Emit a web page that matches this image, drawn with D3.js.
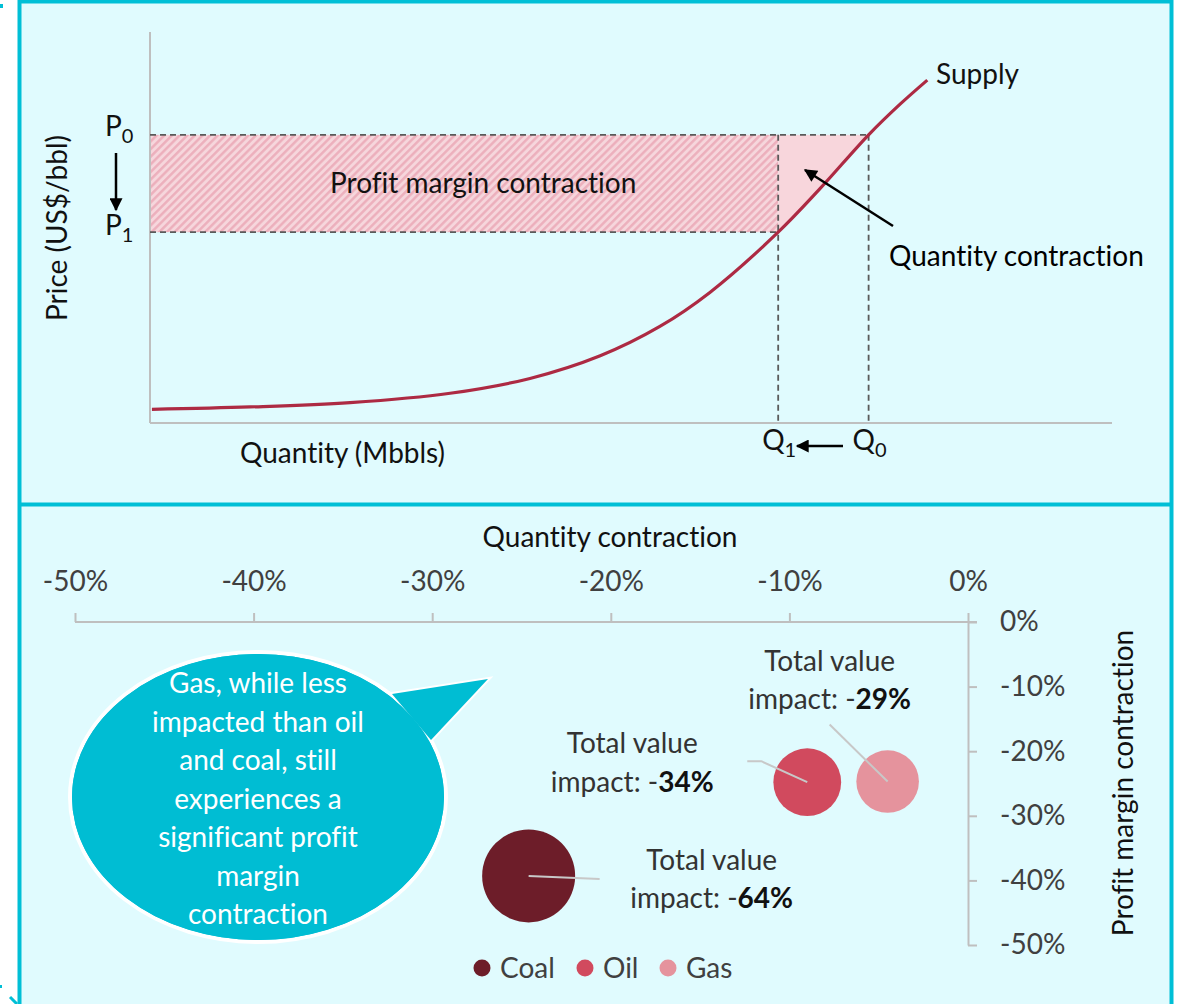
<!DOCTYPE html>
<html>
<head>
<meta charset="utf-8">
<title>Supply curve and value impact</title>
<script src="https://d3js.org/d3.v7.min.js"></script>
<style>
  body { margin: 0; background: #fff; }
  svg text { font-family: Lato, "Open Sans", sans-serif; font-variant-ligatures: none; }
</style>
</head>
<body>
<svg width="1178" height="1004"></svg>
<script>
// top panel: schematic supply curve, arbitrary units 0-100
const supplyQ = [0.2, 10.4, 20.8, 31.2, 39.5, 46.8, 53.0, 58.2, 65.3, 69.6, 74.7, 78.0, 80.8];
const supplyP = [3.5, 4.1, 5.2, 7.6, 11.4, 17.2, 24.7, 33.4, 48.8, 59.8, 73.7, 81.6, 87.7];
const priceLevels = [73.7, 48.8];     // P0, P1
const quantityLevels = [74.7, 65.3];  // Q0, Q1

// bottom panel
const fuels = ["Coal", "Oil", "Gas"];
const qtyContraction = [-0.246, -0.09, -0.045];
const marginContraction = [-0.393, -0.248, -0.247];
const valueImpact = [-0.64, -0.34, -0.29];
const fuelColors = ["#6d1d29", "#d14a5e", "#e5939d"];
const pctTicks = [-0.5, -0.4, -0.3, -0.2, -0.1, 0];
const calloutLines = ["Gas, while less", "impacted than oil", "and coal, still",
                      "experiences a", "significant profit", "margin", "contraction"];

const svg = d3.select("svg");
const FS = 28;
const axisGrey = "#bfbfbf";

// arrow head
const defs = svg.append("defs");
defs.append("marker")
    .attr("id", "arrow")
    .attr("viewBox", "0 0 10 10")
    .attr("refX", 9).attr("refY", 5)
    .attr("markerUnits", "userSpaceOnUse")
    .attr("markerWidth", 15).attr("markerHeight", 13)
    .attr("orient", "auto")
  .append("path").attr("d", "M0,0 L10,5 L0,10 z").attr("fill", "#000");

const hatch = defs.append("pattern")
    .attr("id", "hatch")
    .attr("patternUnits", "userSpaceOnUse")
    .attr("width", 5.4).attr("height", 5.4)
    .attr("patternTransform", "rotate(45)");
hatch.append("rect").attr("width", 5.4).attr("height", 5.4).attr("fill", "#f6d6dc");
hatch.append("line").attr("x1", 1.3).attr("x2", 1.3).attr("y1", 0).attr("y2", 5.4)
    .attr("stroke", "#ecaebb").attr("stroke-width", 2.4);

// frame
svg.append("rect")
    .attr("x", 19.5).attr("y", 1.5).attr("width", 1152).attr("height", 1012)
    .attr("fill", "#e0fbfe").attr("stroke", "#00bfd6").attr("stroke-width", 4);
svg.append("line")
    .attr("x1", 19.5).attr("x2", 1171.5).attr("y1", 504.5).attr("y2", 504.5)
    .attr("stroke", "#00bfd6").attr("stroke-width", 4);
// selection handles peeking out on the left
svg.append("rect").attr("x", 0).attr("y", 4).attr("width", 3).attr("height", 4).attr("fill", "#00bfd6");
svg.append("rect").attr("x", 0).attr("y", 985).attr("width", 2).attr("height", 3).attr("fill", "#00bfd6");
svg.append("line").attr("x1", 10).attr("y1", 997).attr("x2", 17).attr("y2", 1004)
    .attr("stroke", "#00bfd6").attr("stroke-width", 3);

// ---------- top panel ----------
const x = d3.scaleLinear().domain([0, 100]).range([150, 1112]);
const y = d3.scaleLinear().domain([0, 100]).range([423, 32]);
const supply = supplyQ.map((q, i) => [q, supplyP[i]]);
const [P0, P1] = priceLevels;
const [Q0, Q1] = quantityLevels;
const curve = d3.curveCatmullRom.alpha(0.5);

// clip = region above the supply curve
defs.append("clipPath").attr("id", "aboveCurve")
  .append("path")
    .attr("d", d3.area().x(d => x(d[0])).y0(0).y1(d => y(d[1])).curve(curve)(supply));

svg.append("rect")
    .attr("x", x(0)).attr("y", y(P0))
    .attr("width", x(Q1) - x(0)).attr("height", y(P1) - y(P0))
    .attr("fill", "url(#hatch)");
svg.append("rect")
    .attr("x", x(Q1)).attr("y", y(P0))
    .attr("width", x(Q0) - x(Q1)).attr("height", y(P1) - y(P0))
    .attr("fill", "#f8d6dc")
    .attr("clip-path", "url(#aboveCurve)");

// axes
svg.append("line").attr("x1", x(0)).attr("x2", x(0)).attr("y1", y(100)).attr("y2", y(0))
    .attr("stroke", axisGrey).attr("stroke-width", 2);
svg.append("line").attr("x1", x(0)).attr("x2", x(100)).attr("y1", y(0)).attr("y2", y(0))
    .attr("stroke", axisGrey).attr("stroke-width", 2);

// dashed guides
const dash = [
  [[0, P0], [Q0, P0]],
  [[0, P1], [Q1, P1]],
  [[Q1, P0], [Q1, 0]],
  [[Q0, P0], [Q0, 0]]
];
svg.selectAll(".guide").data(dash).enter().append("line")
    .attr("class", "guide")
    .attr("x1", d => x(d[0][0])).attr("y1", d => y(d[0][1]))
    .attr("x2", d => x(d[1][0])).attr("y2", d => y(d[1][1]))
    .attr("stroke", "#5a5a5a").attr("stroke-width", 1.8).attr("stroke-dasharray", "6,4");

// supply curve
svg.append("path")
    .attr("d", d3.line().x(d => x(d[0])).y(d => y(d[1])).curve(curve)(supply))
    .attr("fill", "none").attr("stroke", "#ad2a43").attr("stroke-width", 3.2);

svg.append("text").attr("x", 936).attr("y", 84).attr("font-size", FS).attr("fill", "#111").text("Supply");
svg.append("text").attr("x", 330).attr("y", 193).attr("font-size", FS).attr("fill", "#111").text("Profit margin contraction");
svg.append("text").attr("x", 889).attr("y", 266).attr("font-size", FS).attr("fill", "#000").text("Quantity contraction");
svg.append("line").attr("x1", 893).attr("y1", 226).attr("x2", 805).attr("y2", 170)
    .attr("stroke", "#000").attr("stroke-width", 2.5).attr("marker-end", "url(#arrow)");

svg.append("text").attr("x", 240).attr("y", 463).attr("font-size", FS).attr("fill", "#111").text("Quantity (Mbbls)");
svg.append("text")
    .attr("transform", "translate(67,228) rotate(-90)")
    .attr("text-anchor", "middle").attr("font-size", FS).attr("fill", "#111")
    .text("Price (US$/bbl)");

// P0 / P1 and Q0 / Q1 labels
function subLabel(px, py, main, sub) {
  const t = svg.append("text").attr("x", px).attr("y", py).attr("font-size", FS).attr("fill", "#111");
  t.append("tspan").text(main);
  t.append("tspan").attr("font-size", 20).attr("dy", 7).text(sub);
}
subLabel(105, y(P0) + 1, "P", "0");
subLabel(105, y(P1) + 3, "P", "1");
svg.append("line").attr("x1", 116).attr("x2", 116).attr("y1", 153).attr("y2", 210)
    .attr("stroke", "#000").attr("stroke-width", 2.5).attr("marker-end", "url(#arrow)");
subLabel(x(Q1) - 16, 450, "Q", "1");
subLabel(x(Q0) - 16, 450, "Q", "0");
svg.append("line").attr("x1", 843).attr("x2", 797).attr("y1", 446).attr("y2", 446)
    .attr("stroke", "#000").attr("stroke-width", 2.5).attr("marker-end", "url(#arrow)");

// ---------- bottom panel ----------
const bx = d3.scaleLinear().domain([-0.5, 0]).range([75, 968]);
const by = d3.scaleLinear().domain([0, -0.5]).range([622, 945]);
const size = d3.scaleSqrt().domain([0, 0.64]).range([0, 46.5]);
const pct = d => Math.round(d * 100) + "%";

svg.append("text").attr("x", 610).attr("y", 547).attr("text-anchor", "middle")
    .attr("font-size", FS).attr("fill", "#111").text("Quantity contraction");

const gx = svg.append("g").attr("transform", "translate(0,622)")
    .call(d3.axisTop(bx).tickValues(pctTicks).tickFormat(pct)
          .tickSizeInner(9).tickSizeOuter(0).tickPadding(22));
gx.select(".domain").remove();
svg.append("line").attr("x1", bx(-0.5)).attr("x2", bx(0) + 9).attr("y1", 622).attr("y2", 622)
    .attr("stroke", axisGrey).attr("stroke-width", 2);

const gy = svg.append("g").attr("transform", "translate(968,0)")
    .call(d3.axisRight(by).tickValues(pctTicks.slice().reverse()).tickFormat(pct)
          .tickSizeInner(9).tickSizeOuter(0).tickPadding(23));

[gx, gy].forEach(g => {
  g.selectAll("line, path").attr("stroke", axisGrey).attr("stroke-width", 2);
  g.selectAll("text").attr("font-size", FS).attr("fill", "#404040")
      .attr("font-family", "Lato, 'Open Sans', sans-serif");
});

svg.append("text")
    .attr("transform", "translate(1133,783) rotate(-90)")
    .attr("text-anchor", "middle").attr("font-size", FS).attr("fill", "#111")
    .text("Profit margin contraction");

// bubbles
const bubbles = fuels.map((f, i) => ({
  fuel: f, qx: qtyContraction[i], my: marginContraction[i], v: valueImpact[i], color: fuelColors[i]
}));
svg.selectAll(".bubble").data(bubbles).enter().append("circle")
    .attr("class", "bubble")
    .attr("cx", d => bx(d.qx)).attr("cy", d => by(d.my))
    .attr("r", d => size(-d.v))
    .attr("fill", d => d.color);

// label placement relative to each bubble
const labelLayout = {
  Coal: { dx: 183, dy: -6, leader: [[0, 0], [71, 3]] },
  Oil:  { dx: -175, dy: -29, leader: [[0, 0], [-46, -21], [-60, -21]] },
  Gas:  { dx: -58, dy: -111, leader: [[0, 0], [-58, -57]] }
};
bubbles.forEach(d => {
  const L = labelLayout[d.fuel];
  const cx = bx(d.qx), cy = by(d.my);
  svg.append("path")
      .attr("d", d3.line()(L.leader.map(p => [cx + p[0], cy + p[1]])))
      .attr("fill", "none").attr("stroke", "#c8c8c8").attr("stroke-width", 2);
  const t = svg.append("text").attr("text-anchor", "middle").attr("font-size", FS).attr("fill", "#333");
  t.append("tspan").attr("x", cx + L.dx).attr("y", cy + L.dy).text("Total value");
  const t2 = t.append("tspan").attr("x", cx + L.dx).attr("y", cy + L.dy + 38.5);
  t2.append("tspan").text("impact: -");
  t2.append("tspan").attr("font-weight", "bold").attr("fill", "#111").text(pct(-d.v));
});

// legend
const legend = svg.selectAll(".legend").data(bubbles).enter().append("g")
    .attr("class", "legend")
    .attr("transform", (d, i) => `translate(${[482, 585, 668][i]},968)`);
legend.append("circle").attr("r", 8.5).attr("fill", d => d.color);
legend.append("text").attr("x", 18).attr("y", 9.5).attr("font-size", FS).attr("fill", "#404040").text(d => d.fuel);

// callout bubble
const callout = svg.append("g");
const ell = { cx: 258, cy: 797, rx: 188, ry: 145 };
const tail = [[392, 694], [488, 679], [431, 740]];
callout.append("ellipse").attr("cx", ell.cx).attr("cy", ell.cy).attr("rx", ell.rx).attr("ry", ell.ry)
    .attr("fill", "#00bdd3").attr("stroke", "#fff").attr("stroke-width", 4);
callout.append("polygon").attr("points", tail.map(p => p.join(",")).join(" "))
    .attr("fill", "#00bdd3").attr("stroke", "#fff").attr("stroke-width", 4);
callout.append("ellipse").attr("cx", ell.cx).attr("cy", ell.cy).attr("rx", ell.rx - 2).attr("ry", ell.ry - 2)
    .attr("fill", "#00bdd3");
callout.append("polygon").attr("points", tail.map(p => p.join(",")).join(" ")).attr("fill", "#00bdd3");
callout.selectAll(".cl").data(calloutLines).enter().append("text")
    .attr("class", "cl")
    .attr("x", ell.cx).attr("y", (d, i) => 693 + i * 38.5)
    .attr("text-anchor", "middle").attr("font-size", FS).attr("fill", "#fff")
    .text(d => d);
</script>
</body>
</html>
